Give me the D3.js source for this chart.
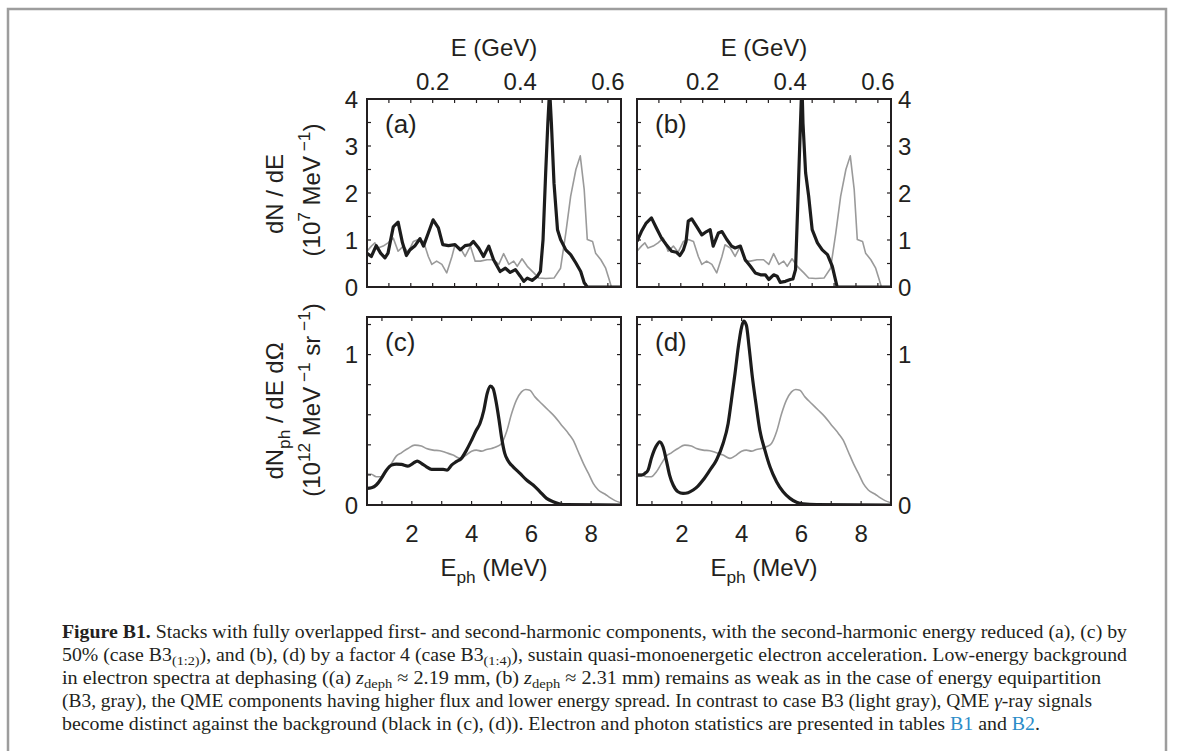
<!DOCTYPE html>
<html><head><meta charset="utf-8">
<script src="https://cdn.jsdelivr.net/npm/d3@7/dist/d3.min.js"></script>
<style>
body{margin:0;background:#fff;}
svg text{font-family:"Liberation Sans",Arial,sans-serif;fill:#231f20;}
</style>
</head><body>
<svg id="chart" width="1187" height="751"></svg>
<script>
// ---------- DATA ----------
// Electron spectra (energy in GeV, dN/dE in 1e7 / MeV)
const elecE_a      = [0.050,0.060,0.071,0.081,0.091,0.098,0.110,0.121,0.131,0.140,0.148,0.159,0.171,0.179,0.190,0.201,0.213,0.223,0.236,0.251,0.263,0.274,0.286,0.293,0.305,0.316,0.328,0.339,0.354,0.366,0.377,0.389,0.400,0.408,0.416,0.427,0.439,0.446,0.452,0.458,0.463,0.467,0.471,0.477,0.485,0.492,0.504,0.515,0.527,0.538,0.546,0.553,0.630];
const elecBlack_a  = [0.72,0.65,0.88,0.72,0.62,0.72,1.28,1.38,0.94,0.67,0.79,0.87,1.03,0.87,1.15,1.43,1.26,0.90,0.88,0.90,0.79,0.88,0.90,0.97,0.83,0.65,0.87,0.58,0.33,0.40,0.31,0.37,0.23,0.12,0.19,0.14,0.23,0.33,1.01,2.43,3.50,4.2,3.50,2.21,1.22,1.01,0.79,0.69,0.51,0.33,0.09,0,0];
const elecE_b      = [0.050,0.060,0.071,0.083,0.094,0.106,0.117,0.129,0.140,0.148,0.156,0.162,0.167,0.175,0.186,0.198,0.209,0.217,0.224,0.236,0.244,0.255,0.266,0.274,0.286,0.297,0.309,0.320,0.332,0.343,0.351,0.362,0.370,0.377,0.389,0.400,0.406,0.412,0.417,0.422,0.425,0.427,0.429,0.435,0.442,0.450,0.462,0.473,0.485,0.496,0.504,0.507,0.630];
const elecBlack_b  = [0.97,1.18,1.36,1.47,1.26,1.04,0.90,0.76,0.74,0.67,0.79,0.97,1.40,1.45,1.29,1.11,1.18,1.22,0.87,1.15,1.18,1.01,0.87,0.83,0.87,0.58,0.44,0.30,0.26,0.26,0.16,0.26,0.23,0.10,0.12,0.16,0.17,0.37,1.72,3.13,3.95,4.2,3.49,2.43,1.93,1.22,0.94,0.79,0.69,0.44,0.12,0,0];
const elecE_B3     = [0.050,0.060,0.068,0.075,0.087,0.098,0.110,0.121,0.133,0.144,0.156,0.167,0.179,0.190,0.198,0.209,0.221,0.232,0.244,0.251,0.263,0.274,0.286,0.297,0.309,0.324,0.339,0.351,0.362,0.374,0.385,0.393,0.404,0.416,0.431,0.442,0.458,0.477,0.492,0.504,0.515,0.527,0.537,0.546,0.553,0.565,0.572,0.584,0.595,0.603,0.608,0.630];
const elecGray_B3  = [0.76,0.87,0.94,0.83,0.87,0.94,1.04,0.76,0.87,0.74,0.97,1.01,0.97,0.65,0.48,0.55,0.48,0.30,0.65,0.90,0.83,0.65,0.87,0.55,0.55,0.58,0.58,0.48,0.71,0.48,0.55,0.44,0.60,0.44,0.30,0.19,0.18,0.19,0.40,1.15,1.93,2.50,2.79,2.07,1.01,0.97,0.72,0.58,0.40,0.16,0,0];

// Photon spectra (energy in MeV, 1e12 / MeV / sr)
const phE_c        = [0.50,0.65,0.81,0.98,1.15,1.32,1.48,1.65,1.87,2.04,2.18,2.32,2.49,2.66,2.82,3.05,3.18,3.33,3.49,3.66,3.83,4.00,4.16,4.28,4.41,4.52,4.63,4.72,4.81,4.92,5.00,5.11,5.22,5.39,5.62,5.84,6.06,6.29,6.51,6.73,6.96,7.18,9.00];
const phBlack_c    = [0.111,0.115,0.133,0.177,0.232,0.265,0.272,0.270,0.259,0.277,0.292,0.277,0.254,0.237,0.237,0.237,0.232,0.265,0.288,0.310,0.365,0.431,0.498,0.542,0.630,0.741,0.790,0.774,0.697,0.564,0.453,0.343,0.294,0.254,0.210,0.166,0.133,0.088,0.044,0.022,0.007,0.002,0];
const phE_d        = [0.50,0.65,0.76,0.87,0.98,1.13,1.26,1.37,1.48,1.59,1.71,1.87,2.04,2.21,2.38,2.54,2.71,2.94,3.16,3.38,3.55,3.66,3.78,3.89,4.00,4.07,4.16,4.25,4.36,4.48,4.61,4.78,4.95,5.17,5.39,5.62,5.84,6.06,6.51,9.00];
const phBlack_d    = [0.199,0.199,0.210,0.232,0.310,0.387,0.420,0.387,0.299,0.199,0.133,0.088,0.077,0.082,0.100,0.126,0.166,0.232,0.299,0.409,0.542,0.697,0.874,1.051,1.183,1.223,1.195,1.051,0.852,0.675,0.498,0.365,0.254,0.155,0.088,0.044,0.018,0.007,0.002,0];
const phE_B3       = [0.50,0.65,0.81,0.98,1.15,1.32,1.48,1.65,1.87,2.10,2.32,2.49,2.71,2.94,3.16,3.38,3.61,3.77,4.00,4.16,4.33,4.50,4.67,4.83,5.00,5.17,5.34,5.50,5.67,5.81,5.95,6.12,6.34,6.57,6.79,7.01,7.24,7.40,7.57,7.74,7.91,8.07,8.24,8.46,8.63,8.80,9.00];
const phGray_B3    = [0.206,0.204,0.188,0.188,0.221,0.277,0.325,0.347,0.376,0.398,0.392,0.376,0.365,0.361,0.347,0.332,0.310,0.325,0.358,0.365,0.358,0.369,0.376,0.387,0.409,0.487,0.608,0.697,0.752,0.768,0.763,0.719,0.675,0.630,0.586,0.531,0.476,0.431,0.354,0.277,0.210,0.144,0.100,0.073,0.049,0.029,0.015];

// Axes domains and ticks
const elecDomain   = [0.05, 0.63];
const elecTicks    = [0.1,0.15,0.2,0.25,0.3,0.35,0.4,0.45,0.5,0.55,0.6];
const elecTickLabels = [0.2, 0.4, 0.6];
const elecYDomain  = [0, 4];
const elecYTicks   = [0,0.5,1,1.5,2,2.5,3,3.5,4];
const elecYLabels  = [0,1,2,3,4];
const phDomain     = [0.5, 9];
const phTicks      = [1,2,3,4,5,6,7,8];
const phTickLabels = [2,4,6,8];
const phYDomain    = [0, 1.25];
const phYTicks     = [0,0.2,0.4,0.6,0.8,1.0,1.2];
const phYLabels    = [0, 1];
const panelLetters = ["(a)","(b)","(c)","(d)"];

// ---------- DRAW ----------
const svg = d3.select("#chart");
svg.append("rect").attr("x",0).attr("y",0).attr("width",1187).attr("height",751).attr("fill","#fff");
svg.append("path").attr("d","M8,760 V9 H1166 V760").attr("fill","none").attr("stroke","#9d9d9d").attr("stroke-width",2.5);

const cols = [[367,621],[637,891]];
const rowsY = {top:[287,99], bot:[505,317]};
const BLACK = "#1c1c1c", GRAY = "#9a9a9a", INK = "#231f20";
const FS = 24;

function zip(xs, ys){ const n = Math.min(xs.length, ys.length); return d3.range(n).map(i=>[xs[i], ys[i]]); }

let clipId = 0;
function panel(opt){
  const x = d3.scaleLinear().domain(opt.xDomain).range(opt.xRange);
  const y = d3.scaleLinear().domain(opt.yDomain).range(opt.yRange);
  const g = svg.append("g");
  const x0 = opt.xRange[0], x1 = opt.xRange[1], y0 = opt.yRange[1], y1 = opt.yRange[0];
  const id = "clip" + (clipId++);
  svg.append("clipPath").attr("id", id).append("rect").attr("x",x0).attr("y",y0).attr("width",x1-x0).attr("height",y1-y0);
  const lg = g.append("g").attr("clip-path","url(#"+id+")");
  const line = d3.line().x(d=>x(d[0])).y(d=>y(d[1])).curve(opt.curve || d3.curveLinear);
  lg.append("path").attr("d", line(zip(opt.grayX, opt.grayY))).attr("fill","none").attr("stroke",GRAY).attr("stroke-width",1.6).attr("stroke-linejoin","round");
  lg.append("path").attr("d", line(zip(opt.blackX, opt.blackY))).attr("fill","none").attr("stroke",BLACK).attr("stroke-width",3.2).attr("stroke-linejoin","round");
  // ticks (inward) on all four sides
  const tl = 4;
  const tk = g.append("g").attr("stroke",INK).attr("stroke-width",1.2);
  opt.xTicks.forEach(v=>{
    tk.append("line").attr("x1",x(v)).attr("x2",x(v)).attr("y1",y1).attr("y2",y1-tl);
    tk.append("line").attr("x1",x(v)).attr("x2",x(v)).attr("y1",y0).attr("y2",y0+tl);
  });
  opt.yTicks.forEach(v=>{
    tk.append("line").attr("x1",x0).attr("x2",x0+tl).attr("y1",y(v)).attr("y2",y(v));
    tk.append("line").attr("x1",x1).attr("x2",x1-tl).attr("y1",y(v)).attr("y2",y(v));
  });
  // frame
  g.append("rect").attr("x",x0).attr("y",y0).attr("width",x1-x0).attr("height",y1-y0)
    .attr("fill","none").attr("stroke",INK).attr("stroke-width",2);
  // x tick labels
  if (opt.xLabelPos === "top") {
    opt.xLabels.forEach(v=>g.append("text").attr("x",x(v)).attr("y",y0-9).attr("text-anchor","middle").attr("font-size",FS).text(v.toFixed(1)));
  } else {
    opt.xLabels.forEach(v=>g.append("text").attr("x",x(v)).attr("y",y1+37).attr("text-anchor","middle").attr("font-size",FS).text(v));
  }
  // y tick labels
  opt.yLabels.forEach(v=>{
    const t = g.append("text").attr("y",y(v)).attr("dy","0.36em").attr("font-size",FS).text(v);
    if (opt.yLabelSide === "left") t.attr("x",x0-9).attr("text-anchor","end");
    else t.attr("x",x1+7).attr("text-anchor","start");
  });
  g.append("text").attr("x",x0+18).attr("y",y0+34).attr("font-size",26).text(opt.letter);
  return {x,y};
}

panel({xDomain:elecDomain,xRange:cols[0],yDomain:elecYDomain,yRange:rowsY.top,grayX:elecE_B3,grayY:elecGray_B3,blackX:elecE_a,blackY:elecBlack_a,xTicks:elecTicks,yTicks:elecYTicks,xLabels:elecTickLabels,xLabelPos:"top",yLabels:elecYLabels,yLabelSide:"left",letter:panelLetters[0]});
panel({xDomain:elecDomain,xRange:cols[1],yDomain:elecYDomain,yRange:rowsY.top,grayX:elecE_B3,grayY:elecGray_B3,blackX:elecE_b,blackY:elecBlack_b,xTicks:elecTicks,yTicks:elecYTicks,xLabels:elecTickLabels,xLabelPos:"top",yLabels:elecYLabels,yLabelSide:"right",letter:panelLetters[1]});
panel({xDomain:phDomain,xRange:cols[0],yDomain:phYDomain,yRange:rowsY.bot,grayX:phE_B3,grayY:phGray_B3,blackX:phE_c,blackY:phBlack_c,xTicks:phTicks,yTicks:phYTicks,xLabels:phTickLabels,xLabelPos:"bottom",yLabels:phYLabels,yLabelSide:"left",letter:panelLetters[2],curve:d3.curveMonotoneX});
panel({xDomain:phDomain,xRange:cols[1],yDomain:phYDomain,yRange:rowsY.bot,grayX:phE_B3,grayY:phGray_B3,blackX:phE_d,blackY:phBlack_d,xTicks:phTicks,yTicks:phYTicks,xLabels:phTickLabels,xLabelPos:"bottom",yLabels:phYLabels,yLabelSide:"right",letter:panelLetters[3],curve:d3.curveMonotoneX});

// rich text helper: segments [{t, sup, sub, it, b, fill}]
function rich(sel, segs, size, subShift){
  let shift = 0;
  const ss = subShift === undefined ? 0.30 : subShift;
  segs.forEach(s=>{
    const ts = sel.append("tspan").text(s.t);
    let target = 0, fs = size;
    if (s.sup){ target = -size*0.42; fs = size*0.72; }
    if (s.sub){ target = size*ss; fs = size*0.72; }
    ts.attr("font-size", fs);
    if (target !== shift){ ts.attr("dy", target - shift); shift = target; }
    if (s.it) ts.attr("font-style","italic");
    if (s.b) ts.attr("font-weight","bold");
    if (s.fill) ts.style("fill", s.fill);
  });
}

// axis titles
[cols[0], cols[1]].forEach(c=>{
  svg.append("text").attr("x",(c[0]+c[1])/2).attr("y",56).attr("text-anchor","middle").attr("font-size",FS).text("E (GeV)");
  const t = svg.append("text").attr("x",(c[0]+c[1])/2).attr("y",576).attr("text-anchor","middle").attr("font-size",FS);
  rich(t,[{t:"E"},{t:"ph",sub:true},{t:" (MeV)"}],FS);
});
function vlabel(x, y, segs){
  const t = svg.append("text").attr("transform",`translate(${x},${y}) rotate(-90)`).attr("text-anchor","middle").attr("font-size",FS);
  rich(t, segs, FS);
}
vlabel(283, 194, [{t:"dN / dE"}]);
vlabel(320, 190, [{t:"(10"},{t:"7",sup:true},{t:" MeV"},{t:" −1",sup:true},{t:")"}]);
vlabel(283, 411, [{t:"dN"},{t:"ph",sub:true},{t:" / dE dΩ"}]);
vlabel(320, 400, [{t:"(10"},{t:"12",sup:true},{t:" MeV"},{t:" −1",sup:true},{t:" sr"},{t:" −1",sup:true},{t:")"}]);

// caption
const BLUE = "#2a8cc8";
const captionLines = [
  [{t:"Figure B1.",b:true},{t:" Stacks with fully overlapped first- and second-harmonic components, with the second-harmonic energy reduced (a), (c) by"}],
  [{t:"50% (case B3"},{t:"(1:2)",sub:true},{t:"), and (b), (d) by a factor 4 (case B3"},{t:"(1:4)",sub:true},{t:"), sustain quasi-monoenergetic electron acceleration. Low-energy background"}],
  [{t:"in electron spectra at dephasing ((a) "},{t:"z",it:true},{t:"deph",sub:true},{t:" ≈ 2.19 mm, (b) "},{t:"z",it:true},{t:"deph",sub:true},{t:" ≈ 2.31 mm) remains as weak as in the case of energy equipartition"}],
  [{t:"(B3, gray), the QME components having higher flux and lower energy spread. In contrast to case B3 (light gray), QME "},{t:"γ",it:true},{t:"-ray signals"}],
  [{t:"become distinct against the background (black in (c), (d)). Electron and photon statistics are presented in tables "},{t:"B1",fill:BLUE},{t:" and "},{t:"B2",fill:BLUE},{t:"."}]
];
const captionWidths = [1065, 1065, 1039, 1030, 978];
const CFS = 18.5;
captionLines.forEach((segs,i)=>{
  const t = svg.append("text").attr("x",62).attr("y",638 + i*23)
    .style("font-family","'Liberation Serif','DejaVu Serif',serif").attr("font-size",CFS)
    .attr("textLength",captionWidths[i]).attr("lengthAdjust","spacingAndGlyphs");
  rich(t, segs, CFS, 0.2);
});
</script>
</body></html>
